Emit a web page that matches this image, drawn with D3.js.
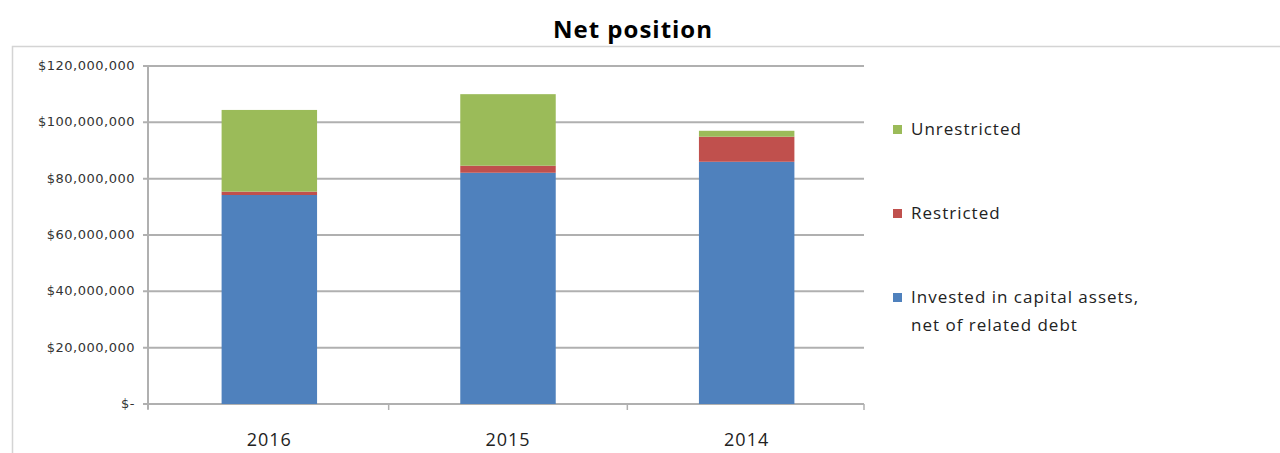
<!DOCTYPE html>
<html>
<head>
<meta charset="utf-8">
<script src="https://cdn.jsdelivr.net/npm/d3@7/dist/d3.min.js"></script>
<style>
  html, body { margin: 0; padding: 0; background: #fff; }
  svg { display: block; }
</style>
</head>
<body>
<div class="container"></div>
<script>
var years = ['2016', '2015', '2014'];
var invested = [74200000, 82100000, 86000000];
var restricted = [1200000, 2500000, 8900000];
var unrestricted = [29000000, 25400000, 2100000];
var seriesColors = ['#4f81bd', '#c0504d', '#9bbb59'];
var yTicks = [0, 20000000, 40000000, 60000000, 80000000, 100000000, 120000000];

var WIDTH = 1280, HEIGHT = 453;
var LEFT = 148, RIGHT = 864, TOP = 66, BOTTOM = 404;

var buildRows = function () {
    return years.map(function (y, i) {
        return {year: y, invested: invested[i], restricted: restricted[i], unrestricted: unrestricted[i]};
    });
};

var formatTick = function (d) {
    if (d === 0) return '$-';
    return '$' + d3.format(',')(d);
};

var visualize = function () {
    var svg = d3.select('.container').append('svg')
        .attr('width', WIDTH)
        .attr('height', HEIGHT);

    // outer frame (only top and left edges visible)
    svg.append('path')
        .attr('d', 'M12.5,' + HEIGHT + 'V46.5H' + WIDTH)
        .attr('fill', 'none')
        .attr('stroke', '#d4d4d4')
        .attr('stroke-width', 1.5);

    svg.append('text')
        .attr('x', 633)
        .attr('y', 38)
        .attr('text-anchor', 'middle')
        .style('font-family', '"Open Sans", sans-serif')
        .style('font-weight', 'bold')
        .style('font-size', '24px')
        .style('letter-spacing', '1px')
        .text('Net position');

    var xScale = d3.scaleBand().domain(years).range([LEFT + 2, RIGHT + 2]).paddingInner(0.6).paddingOuter(0.3);
    var yScale = d3.scaleLinear().domain([0, 120000000]).range([BOTTOM, TOP]);

    var keys = ['invested', 'restricted', 'unrestricted'];
    var stacked = d3.stack().keys(keys)(buildRows());

    // gridlines
    svg.append('g').selectAll('line')
        .data(yTicks)
        .enter()
        .append('line')
        .attr('x1', LEFT - 5)
        .attr('x2', RIGHT)
        .attr('y1', function (d) { return yScale(d); })
        .attr('y2', function (d) { return yScale(d); })
        .attr('stroke', '#b0b0b0')
        .attr('stroke-width', 2);

    // y axis line
    svg.append('line')
        .attr('x1', LEFT).attr('x2', LEFT)
        .attr('y1', TOP).attr('y2', BOTTOM + 5)
        .attr('stroke', '#b0b0b0').attr('stroke-width', 2);

    // x axis ticks between categories
    var bounds = [LEFT].concat(years.map(function (y) {
        return xScale(y) + xScale.bandwidth() + xScale.step() * xScale.paddingInner() / 2;
    }));
    bounds[bounds.length - 1] = RIGHT;
    svg.append('g').selectAll('line')
        .data(bounds)
        .enter()
        .append('line')
        .attr('x1', function (d) { return d; })
        .attr('x2', function (d) { return d; })
        .attr('y1', BOTTOM)
        .attr('y2', BOTTOM + 6)
        .attr('stroke', '#b0b0b0').attr('stroke-width', 1.5);

    // bars
    svg.append('g').selectAll('g')
        .data(stacked)
        .enter()
        .append('g')
        .attr('fill', function (d, i) { return seriesColors[i]; })
        .selectAll('rect')
        .data(function (d) { return d; })
        .enter()
        .append('rect')
        .attr('x', function (d) { return xScale(d.data.year); })
        .attr('width', xScale.bandwidth())
        .attr('y', function (d) { return yScale(d[1]); })
        .attr('height', function (d) { return yScale(d[0]) - yScale(d[1]); });

    // y labels
    svg.append('g').selectAll('text')
        .data(yTicks)
        .enter()
        .append('text')
        .attr('x', 135)
        .attr('y', function (d) { return yScale(d) + 4; })
        .attr('text-anchor', 'end')
        .style('font-family', '"DejaVu Sans", sans-serif')
        .style('font-size', '13px')
        .style('letter-spacing', '0.5px')
        .attr('fill', '#333')
        .text(formatTick);

    // x labels
    svg.append('g').selectAll('text')
        .data(years)
        .enter()
        .append('text')
        .attr('x', function (d) { return xScale(d) + xScale.bandwidth() / 2; })
        .attr('y', 446)
        .attr('text-anchor', 'middle')
        .style('font-family', '"Open Sans", sans-serif')
        .style('font-size', '18px')
        .style('letter-spacing', '1px')
        .attr('fill', '#222')
        .text(function (d) { return d; });

    // legend
    var legendItems = [
        {lines: ['Unrestricted'], color: seriesColors[2], y: 129},
        {lines: ['Restricted'], color: seriesColors[1], y: 213},
        {lines: ['Invested in capital assets,', 'net of related debt'], color: seriesColors[0], y: 297}
    ];
    var legend = svg.append('g').selectAll('g')
        .data(legendItems)
        .enter()
        .append('g');
    legend.append('rect')
        .attr('x', 893)
        .attr('y', function (d) { return d.y - 4; })
        .attr('width', 9)
        .attr('height', 9)
        .attr('fill', function (d) { return d.color; });
    legend.append('text')
        .attr('x', 911)
        .attr('y', function (d) { return d.y + 6; })
        .style('font-family', '"Open Sans", sans-serif')
        .style('font-size', '17px')
        .style('letter-spacing', '1px')
        .attr('fill', '#222')
        .selectAll('tspan')
        .data(function (d) { return d.lines; })
        .enter()
        .append('tspan')
        .attr('x', 911)
        .attr('dy', function (d, i) { return i === 0 ? 0 : 28; })
        .text(function (d) { return d; });
};

window.onload = visualize;
</script>
</body>
</html>
